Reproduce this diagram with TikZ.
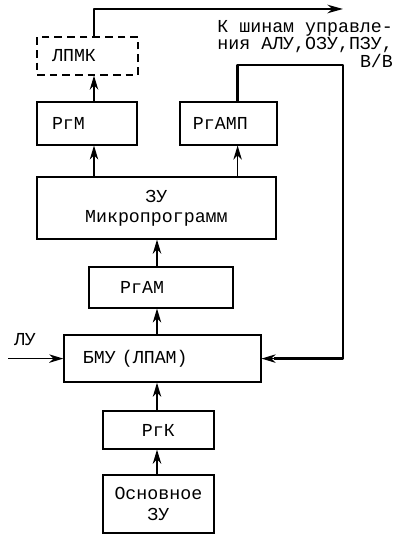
\documentclass[tikz,border=0pt]{standalone}
\usepackage{fontspec}
\newfontfamily\tapefont{Liberation Mono}
\usetikzlibrary{positioning, calc, arrows.meta}

\tikzset{
  blk/.style={draw, line width=0.9pt, inner sep=0pt,
    font=\tapefont\fontsize{13}{14.5}\selectfont},
  leftpad/.style={align=left, inner xsep=#1},
  arr/.style={line width=0.9pt, -{Stealth[length=10pt, width=6pt, inset=3pt]}},
  bus/.style={line width=1.8pt, line join=round}
}

\begin{document}
\begin{tikzpicture}
        \useasboundingbox (0,0) rectangle (10.075, 13.375);
        \coordinate (colL) at (2.35, 0);
        \coordinate (colM) at (3.925, 0);
        \coordinate (colR) at (5.94, 0);

        % upper row
        \node[blk, dashed, dash pattern=on 5.5pt off 3.5pt, leftpad=0.375cm, text width=1.775cm, minimum height=0.95cm] (lpmk) at (2.19, 11.975) {ЛПМК};
        \node[blk, leftpad=0.375cm, text width=1.75cm, minimum height=1.075cm] (rgm) at (2.175, 10.29) {РгМ};
        \node[blk, leftpad=0.325cm, text width=1.775cm, minimum height=1.075cm] (rgamp) at (5.71, 10.29) {РгАМП};

        % microprogram store
        \node[blk, align=center, minimum width=5.975cm, minimum height=1.55cm] (zu) at (3.91, 8.175) {ЗУ\\Микропрограмм};
        \node[blk, leftpad=0.78cm, text width=2.04cm, minimum height=1.025cm] (rgam) at (4.025, 6.19) {РгАМ};
        \node[blk, leftpad=0.475cm, text width=3.975cm, minimum height=1.175cm] (bmu) at (4.06, 4.41) {БМУ (ЛПАМ)};

        % lower part
        \node[blk, minimum width=2.775cm, minimum height=0.95cm] (rgk) at (3.96, 2.625) {РгК};
        \node[blk, align=center, minimum width=2.775cm, minimum height=1.45cm] (osn) at (3.96, 0.775) {Основное\\ЗУ};

        \node[font=\tapefont\fontsize{13}{9.3}\selectfont, align=right, anchor=north east, inner sep=0pt] (bus-lbl) at (9.83, 12.88) {К шинам управле-\\ния АЛУ,ОЗУ,ПЗУ,\\В/В};
        \node[font=\tapefont\fontsize{13}{14}\selectfont, inner sep=0pt] (lu) at (0.625, 4.875) {ЛУ};

        % connectors
        \draw[arr] (rgm.north -| colL) -- (lpmk.south -| colL);
        \draw[arr] (zu.north -| colL) -- (rgm.south -| colL);
        \draw[arr] (zu.north -| colR) -- (rgamp.south -| colR);
        \draw[arr] (rgam.north -| colM) -- (zu.south -| colM);
        \draw[arr] (bmu.north -| colM) -- (rgam.south -| colM);
        \draw[arr] (rgk.north -| colM) -- (bmu.south -| colM);
        \draw[arr] (osn.north -| colM) -- (rgk.south -| colM);

        \coordinate (lu-in) at (0.2, 4.41);
        \draw[arr] (lu-in) -- (bmu.west);

        \coordinate (bus-end) at (8.575, 13.15);
        \draw[bus, -{Stealth[length=11pt, width=6pt, inset=3.5pt]}] (lpmk.north -| colL) |- (bus-end);

        \coordinate (fb-top) at (8.575, 11.75);
        \draw[bus] (rgamp.north -| colR) |- (fb-top) |- ($(bmu.east)+(0.3,0)$);
        \draw[arr] ($(bmu.east)+(0.3,0)$) -- (bmu.east);
      \end{tikzpicture}
\end{document}
